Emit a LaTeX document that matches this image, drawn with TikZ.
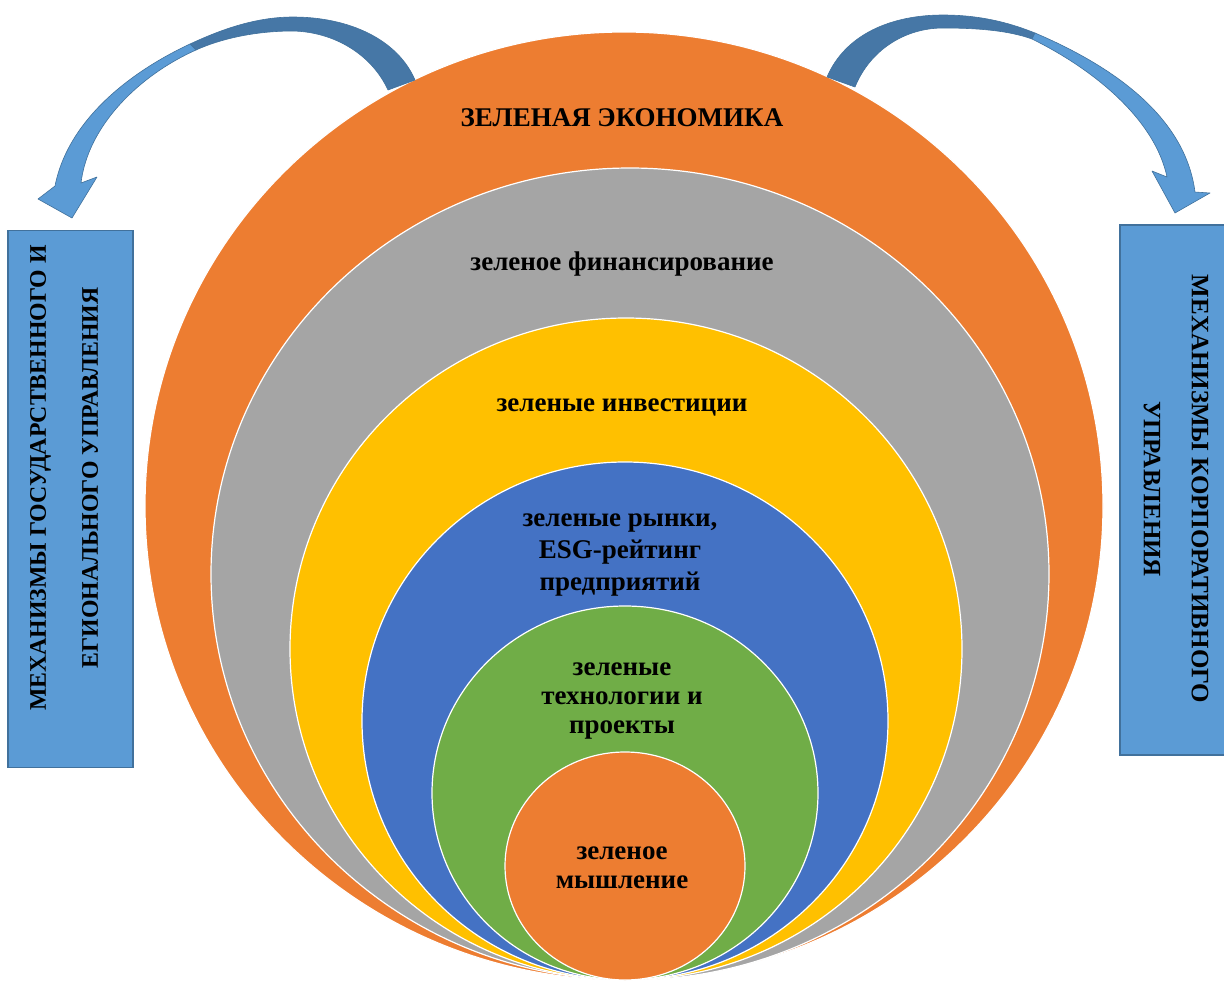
\documentclass[tikz,border=0pt]{standalone}
\usepackage{fontspec}
\setmainfont{Liberation Serif}
\usepackage{tikz}

\definecolor{ringorange}{HTML}{ED7D31}
\definecolor{ringgray}{HTML}{A5A5A5}
\definecolor{ringyellow}{HTML}{FFC000}
\definecolor{ringblue}{HTML}{4472C4}
\definecolor{ringgreen}{HTML}{70AD47}
\definecolor{boxblue}{HTML}{5B9BD5}
\definecolor{boxline}{HTML}{41719C}
\definecolor{arrowdark}{HTML}{4677A6}

\tikzset{
  ring/.style={fill=#1, draw=white, line width=1.2pt},
  lbl/.style={font=\bfseries\fontsize{27}{29}\selectfont, align=center, inner sep=0pt},
  sidebox/.style={fill=boxblue, draw=boxline, line width=1.5pt, inner sep=0pt},
  sidetxt/.style={font=\bfseries\fontsize{#1}{50}\selectfont, align=center, inner sep=0pt},
  arrback/.style={fill=arrowdark, draw=boxline, line width=0.6pt, line join=round},
  arrfront/.style={fill=boxblue, draw=boxline, line width=0.6pt, line join=round}
}

\begin{document}
\begin{tikzpicture}[x=1pt,y=-1pt]
\useasboundingbox (0,0) rectangle (1224,983);
% nested rings, all resting on the bottom
\path [ring=ringorange] (624,506) ellipse [x radius=479pt, y radius=474pt];
\path [ring=ringgray] (630,574) ellipse [x radius=419pt, y radius=406pt];
\path [ring=ringyellow] (626,649) ellipse [x radius=336pt, y radius=331pt];
\path [ring=ringblue] (625,721) ellipse [x radius=263pt, y radius=259pt];
\path [ring=ringgreen] (625,793) ellipse [x radius=193pt, y radius=187pt];
\path [ring=ringorange] (625,866) ellipse [x radius=120pt, y radius=114pt];

\node (econ) [lbl] at (622,118) {ЗЕЛЕНАЯ ЭКОНОМИКА};
\node (fin) [lbl] at (622,264) {зеленое финансирование};
\node (inv) [lbl] at (622,407) {зеленые инвестиции};
\node (mkt) [lbl, font=\bfseries\fontsize{27}{32}\selectfont] at (620,555) {зеленые рынки,\\ESG-рейтинг\\предприятий};
\node (tech) [lbl] at (622,701) {зеленые\\технологии и\\проекты};
\node (mind) [lbl] at (622,868) {зеленое\\мышление};

% side boxes
\node (govbox) [sidebox, minimum width=125pt, minimum height=537pt] at (70.5,499) {};
\node (govtext) [sidetxt=23.8, rotate=90] at (64,478) {МЕХАНИЗМЫ ГОСУДАРСТВЕННОГО И\\[2pt]ЕГИОНАЛЬНОГО УПРАВЛЕНИЯ};
\node (corpbox) [sidebox, minimum width=110pt, minimum height=530pt] at (1175,490) {};
\node (corptext) [sidetxt=25, rotate=-90] at (1176,489) {МЕХАНИЗМЫ КОРПОРАТИВНОГО\\[-2pt]УПРАВЛЕНИЯ};

% left curved arrow
\draw [arrback] (415,80) .. controls (398,40) and (350,17) .. (293,17)
  .. controls (255,17) and (220,30) .. (190,44) -- (196,50)
  .. controls (225,37) and (260,31) .. (293,31)
  .. controls (335,32) and (372,55) .. (388,90) -- cycle;
\draw [arrfront] (190,44) .. controls (130,72) and (68,120) .. (55,186)
  -- (38,199) -- (72,218) -- (97,177) -- (81,183)
  .. controls (88,125) and (140,75) .. (196,50) -- cycle;

% right curved arrow
\draw [arrback] (827,77) .. controls (845,35) and (890,15) .. (943,15)
  .. controls (985,15) and (1015,25) .. (1035,33) -- (1032,39)
  .. controls (1010,31) and (980,28) .. (943,28)
  .. controls (905,28) and (870,50) .. (855,87) -- cycle;
\draw [arrfront] (1035,33) .. controls (1110,65) and (1185,115) .. (1195,192)
  -- (1210,193) -- (1175,213) -- (1152,171) -- (1167,177)
  .. controls (1155,120) and (1095,70) .. (1032,39) -- cycle;
\end{tikzpicture}
\end{document}
